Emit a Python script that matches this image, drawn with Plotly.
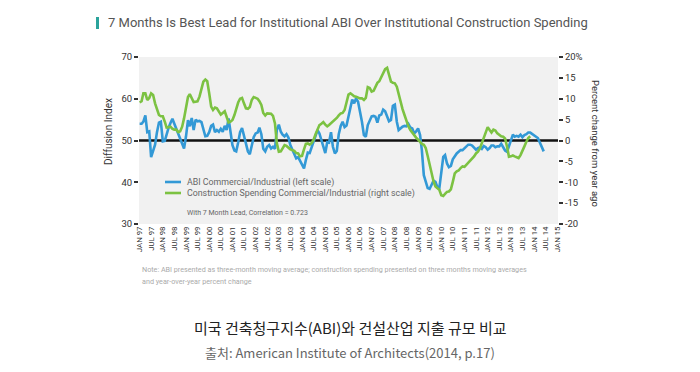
import pandas as pd
import plotly.graph_objects as go

# ---------------- data ----------------
abi_start = "1997-01-01"
abi_values = [
    54, 54, 54.5, 56, 52, 52.2, 46, 47.4, 49, 52,
    54.3, 54.5, 49.8, 49.9, 51.5, 53, 54.2, 55.2, 54, 52.8,
    51.6, 50.5, 48.9, 48.1, 51, 54.9, 53.4, 55.4, 52.5, 55,
    54.6, 54.7, 54.4, 52.5, 51, 51.1, 52, 53.5, 53.8, 52,
    52.5, 52.1, 52.8, 52.1, 53.5, 52.5, 55.3, 52.1, 48.9, 47.6,
    47.4, 49.5, 52, 53, 51.3, 48.9, 47.4, 46.7, 48.6, 50.8,
    51.7, 51.9, 53.1, 51.5, 48, 47.4, 48.5, 48.9, 48.1, 48.5,
    48, 52.6, 53.8, 52.1, 51.4, 51, 51.5, 50.7, 48.9, 47.8,
    46.6, 45.7, 46, 45, 44, 43.3, 45.3, 47.1, 47, 48.3,
    49.5, 50.7, 52.5, 51.7, 50.2, 48.6, 47, 49.6, 49.5, 52,
    48.5, 46.9, 47.5, 51.5, 53.5, 54.5, 53.2, 53.6, 55.5, 57.8,
    59.8, 58.9, 60.1, 59.3, 57, 54.5, 51.3, 50.9, 53.7, 54.9,
    55.8, 55.9, 55.7, 54.3, 56, 56.2, 57.4, 57, 55.7, 54.6,
    54.9, 58.3, 58.6, 54.5, 52.5, 53, 53.3, 53.5, 53.4, 54,
    53.1, 52.9, 51.7, 52.2, 52.9, 51.3, 47.7, 41.7, 39.9, 38.6,
    38.4, 39.4, 40.4, 40.1, 38.8, 38.6, 42.5, 46.1, 46.5, 44.5,
    43.6, 43.9, 45.5, 46.3, 46.9, 47.3, 47.7, 47.7, 48.2, 48.7,
    49, 49, 48.8, 48.3, 47.8, 48.2, 48.4, 48, 48.7, 48.4,
    47.8, 48.2, 48.8, 48.8, 48.4, 48.6, 48.6, 49.2, 48.3, 47.6,
    47.3, 48.6, 50.3, 51.4, 50.9, 51.1, 50.9, 51.4, 50.8, 51.3,
    51.5, 51.9, 51.9, 51.6, 51.2, 51, 50.6, 49.5, 48.2, 47.4,
]

spend_start = "1997-01-01"
spend_values = [
    9.1, 9.4, 11.3, 11.3, 9.7, 10.2, 11.3, 10.9, 8.9, 7.4,
    6.1, 5.8, 5.8, 4.5, 3.1, 3.2, 3.3, 2.8, 2.6, 2.6,
    2, 2.2, 3.3, 5.3, 8.1, 10.4, 11.1, 10.1, 9.2, 9.3,
    9.4, 10.5, 12.6, 14.1, 14.6, 14.2, 11.3, 8.1, 7.3, 7.9,
    7.7, 6.9, 6.2, 6.6, 7, 5.7, 4.3, 4.5, 4.9, 6.1,
    7.7, 9.1, 10, 10.2, 8.9, 7.7, 7.6, 8, 9.7, 10.4,
    10.2, 10, 9.4, 8.5, 6.6, 6, 6.5, 6.5, 6.4, 5.9,
    4.1, -0.7, -2.7, -2.6, -1.8, -1.1, -1.3, -1.8, -2.1, -2.3,
    -2.5, -3, -3.1, -3.8, -3.7, -2.1, -0.8, -0.7, -1, -0.6,
    0.2, 1.5, 2.5, 3.7, 4, 4.4, 3.8, 3.4, 3.7, 4.1,
    4.6, 5, 5.4, 6, 6.5, 6.6, 7.3, 9.1, 11, 11.3,
    11, 10.6, 10.5, 10.3, 10.1, 10.1, 9.7, 10.2, 12.8, 12.6,
    11.7, 11.9, 12.9, 13.8, 14.2, 15.3, 16.2, 17.1, 17.4, 15.7,
    14.1, 13.8, 13.7, 12.9, 10.9, 9.3, 7.5, 6.1, 4.6, 3.4,
    2.5, 1.8, 1.2, 0.7, 0.2, -0.4, -0.8, -1, -1.8, -3.7,
    -5.9, -8, -9.8, -11, -11.5, -11.8, -13.1, -13.3, -12.8, -12.3,
    -12.2, -11.7, -9.9, -7.9, -7.4, -7.2, -6.6, -6.2, -6.3, -5.8,
    -5.4, -4.7, -4.3, -3.8, -3.1, -2.7, -1.9, -0.7, 0.9, 2.1,
    3.2, 2.5, 1.9, 2.6, 2.4, 1.7, 1.3, 1, 0.9, 0.5,
    -1.5, -3.9, -3.8, -3.6, -3.8, -4, -4.2, -3.5, -2.6, -1.4,
    -0.3, 0.6, 1,
]

x_tick_dates = [f"{y}-{m:02d}-01" for y in range(1997, 2016) for m in (1, 7)][:-1]
x_tick_labels = [("JAN " if d[5:7] == "01" else "JUL ") + d[2:4] for d in x_tick_dates]

left_ticks = [30, 40, 50, 60, 70]
right_ticks = [-20, -15, -10, -5, 0, 5, 10, 15, 20]
right_tick_labels = ["-20", "-15", "-10", "-5", "0", "5", "10", "15", "20%"]

abi_dates = pd.date_range(abi_start, periods=len(abi_values), freq="MS")
spend_dates = pd.date_range(spend_start, periods=len(spend_values), freq="MS")

# ---------------- styling ----------------
W, H = 700, 372
L, R, T, B = 139, 558, 57, 224
COND = "Roboto, Liberation Sans, sans-serif"
BLUE = "#3399d6"
GREEN = "#7cc242"


def px(x):
    return (x - L) / (R - L)


def py(y):
    return (B - y) / (B - T)


fig = go.Figure()
fig.add_trace(go.Scatter(x=abi_dates, y=abi_values, mode="lines",
                         line=dict(color=BLUE, width=2.6),
                         name="ABI Commercial/Industrial (left scale)",
                         showlegend=False, yaxis="y"))
fig.add_trace(go.Scatter(x=spend_dates, y=spend_values, mode="lines",
                         line=dict(color=GREEN, width=2.6),
                         name="Construction Spending Commercial/Industrial (right scale)",
                         showlegend=False, yaxis="y2"))

fig.update_layout(
    width=W, height=H,
    margin=dict(l=L, r=W - R, t=T, b=H - B, pad=0),
    paper_bgcolor="white",
    plot_bgcolor="#f1f1f1",
    font=dict(family=COND, color="#333"),
    xaxis=dict(type="date", range=["1996-12-22", "2015-01-12"],
               tickvals=x_tick_dates, ticktext=x_tick_labels, tickangle=-90,
               tickfont=dict(size=7.8, color="#333"), ticks="", showgrid=False,
               zeroline=False, showline=False, automargin=False),
    yaxis=dict(range=[30, 70], tickvals=left_ticks, ticks="outside", ticklen=4,
               tickwidth=1.5, tickcolor="#333", tickfont=dict(size=9.5, color="#333"),
               showgrid=False, zeroline=False, showline=False, automargin=False),
    yaxis2=dict(range=[-20, 20], overlaying="y", side="right", tickvals=right_ticks,
                ticktext=right_tick_labels, ticks="outside", ticklen=4, tickwidth=1.5,
                tickcolor="#333", tickfont=dict(size=9.5, color="#333"),
                showgrid=False, zeroline=False, showline=False, automargin=False),
    showlegend=False,
)

# 50 reference line
fig.add_shape(type="line", xref="paper", yref="y", x0=0, x1=1, y0=50, y1=50,
              line=dict(color="#111", width=2.5), layer="below")

# title bar + title
fig.add_shape(type="rect", xref="paper", yref="paper", x0=px(96), x1=px(99),
              y0=py(29), y1=py(17), fillcolor="#2aa39b", line=dict(width=0))
fig.add_annotation(x=px(106), y=py(23), xref="paper", yref="paper", xanchor="left",
                   yanchor="middle", showarrow=False,
                   text="7 Months Is Best Lead for Institutional ABI Over Institutional Construction Spending",
                   font=dict(family=COND, size=13, color="#555"))

# axis titles
fig.add_annotation(x=px(108), y=py(132), xref="paper", yref="paper", textangle=-90,
                   xanchor="center", yanchor="middle",
                   showarrow=False, text="Diffusion Index",
                   font=dict(family=COND, size=10, color="#333"))
fig.add_annotation(x=px(596), y=py(143), xref="paper", yref="paper", textangle=90,
                   xanchor="center", yanchor="middle",
                   showarrow=False, text="Percent change from year ago",
                   font=dict(family=COND, size=9.5, color="#333"))

# legend (manual)
for yy, col, txt in [(182, BLUE, "ABI Commercial/Industrial (left scale)"),
                     (193, GREEN, "Construction Spending Commercial/Industrial (right scale)")]:
    fig.add_shape(type="line", xref="paper", yref="paper", x0=px(165), x1=px(181),
                  y0=py(yy), y1=py(yy), line=dict(color=col, width=2.6))
    fig.add_annotation(x=px(185), y=py(yy), xref="paper", yref="paper", xanchor="left",
                       yanchor="middle", showarrow=False, text=txt,
                       font=dict(family=COND, size=8.8, color="#666"))
fig.add_annotation(x=px(185), y=py(213), xref="paper", yref="paper", xanchor="left",
                   yanchor="middle", showarrow=False,
                   text="With 7 Month Lead, Correlation = 0.723",
                   font=dict(family=COND, size=7, color="#666"))

# note
fig.add_annotation(x=px(140), y=py(269), xref="paper", yref="paper", xanchor="left",
                   yanchor="middle", showarrow=False,
                   text="Note: ABI presented as three-month moving average; construction spending presented on three months moving averages",
                   font=dict(family=COND, size=7.2, color="#aaa"))
fig.add_annotation(x=px(140), y=py(281), xref="paper", yref="paper", xanchor="left",
                   yanchor="middle", showarrow=False,
                   text="and year-over-year percent change",
                   font=dict(family=COND, size=7.2, color="#aaa"))

# Korean caption
fig.add_annotation(x=px(350), y=py(327), xref="paper", yref="paper", xanchor="center",
                   yanchor="middle", showarrow=False,
                   text="미국 건축청구지수(ABI)와 건설산업 지출 규모 비교",
                   font=dict(family="Noto Sans CJK KR", size=15, color="#222"))
fig.add_annotation(x=px(350), y=py(352), xref="paper", yref="paper", xanchor="center",
                   yanchor="middle", showarrow=False,
                   text="출처: American Institute of Architects(2014, p.17)",
                   font=dict(family="Noto Sans CJK KR", size=13, color="#666"))

fig.write_html("out.html", config={"displayModeBar": False},
               post_script="document.body.style.margin='0px';document.body.style.overflow='hidden';")
